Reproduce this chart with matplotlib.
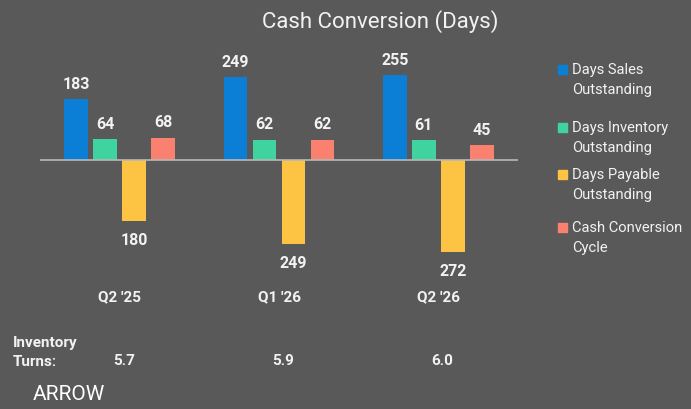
import matplotlib.pyplot as plt
import matplotlib.transforms as mtransforms
import numpy as np

# data
quarters = ["Q2 '25", "Q1 '26", "Q2 '26"]
dso = [183, 249, 255]
dio = [64, 62, 61]
dpo = [-180, -249, -272]
ccc = [68, 62, 45]
inv_turns = ["5.7", "5.9", "6.0"]

series_names = ['Days Sales\nOutstanding', 'Days Inventory\nOutstanding',
                'Days Payable\nOutstanding', 'Cash Conversion\nCycle']
series = [dso, dio, dpo, ccc]
colors = ['#0a7fd5', '#3fd3a0', '#fdc443', '#fa8070']

bg = '#595959'
fg = '#f2f2f2'
plt.rcParams['font.family'] = ['Roboto', 'DejaVu Sans']

W, H = 691, 410
fig = plt.figure(figsize=(W / 100, H / 100), dpi=100, facecolor=bg)

# axes: pixel 40..518 horizontally, 62..282 vertically (baseline ~161)
ax = fig.add_axes([40 / W, 1 - 282 / H, 478 / W, 220 / H])
ax.set_facecolor(bg)
ax.set_xlim(-0.5, 2.5)
ax.set_ylim(-360, 297)
ax.axis('off')
ax.axhline(0, color='#b8b8b8', lw=1.2, zorder=3)

x = np.arange(len(quarters))
pitch = 0.1824
width = 0.148
for i, (vals, col) in enumerate(zip(series, colors)):
    pos = x + (i - 1.5) * pitch
    ax.bar(pos, vals, width=width, color=col, zorder=2)
    for px, v in zip(pos, vals):
        if v >= 0:
            ax.annotate(str(abs(v)), (px, v), xytext=(0, 6), textcoords='offset points',
                        ha='center', va='bottom', color=fg, fontsize=11.5, fontweight='bold')
        else:
            ax.annotate(str(abs(v)), (px, v), xytext=(0, -8), textcoords='offset points',
                        ha='center', va='top', color=fg, fontsize=11.5, fontweight='bold')

blend = mtransforms.blended_transform_factory(ax.transData, fig.transFigure)

# category labels
for xi, q in zip(x, quarters):
    ax.text(xi, 1 - 297 / H, q, transform=blend, ha='center', va='center',
            color=fg, fontsize=11, fontweight='bold')

# inventory turns row
for xi, t in zip(x, inv_turns):
    ax.text(xi + 0.025, 1 - 361 / H, t, transform=blend, ha='center', va='center',
            color=fg, fontsize=11, fontweight='bold')
fig.text(13 / W, 1 - 343 / H, 'Inventory', ha='left', va='center', color=fg,
         fontsize=11, fontweight='bold')
fig.text(13 / W, 1 - 362 / H, 'Turns:', ha='left', va='center', color=fg,
         fontsize=11, fontweight='bold')

# title
fig.text(380 / W, 1 - 22 / H, 'Cash Conversion (Days)', ha='center', va='center',
         color=fg, fontsize=16)

# legend
leg_y = [80, 138, 185, 238]
for name, col, ly in zip(series_names, colors, leg_y):
    fig.patches.append(plt.Rectangle((558 / W, 1 - (ly - 5) / H), 9 / W, 9 / H,
                                     transform=fig.transFigure, color=col))
    fig.text(572 / W, 1 - ly / H, name, ha='left', va='center', color=fg,
             fontsize=10.6, linespacing=1.6)

# logo
fig.text(33 / W, 1 - 395 / H, 'ARROW', ha='left', va='center', color='white',
         fontsize=15)

fig.savefig('out.png', dpi=100, facecolor=bg)
